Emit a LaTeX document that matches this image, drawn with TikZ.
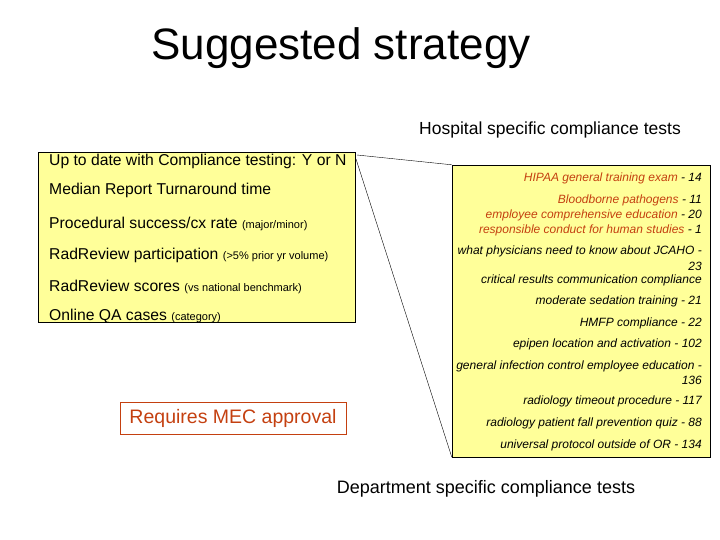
\documentclass[tikz,border=0pt]{standalone}
\usepackage{fontspec}
\setmainfont{Liberation Sans}
\usetikzlibrary{positioning}
\definecolor{memoyellow}{RGB}{255,255,153}
\definecolor{memorust}{RGB}{196,64,16}
\newcommand{\memonote}[1]{{\fontsize{11}{12}\selectfont #1}}
\begin{document}
\begin{tikzpicture}[x=1pt, y=-1pt,
      panel/.style={draw=black, fill=memoyellow, inner sep=0pt},
      item/.style={anchor=west, inner sep=0pt, font=\fontsize{15.7}{18}\selectfont},
      test/.style={anchor=east, inner sep=0pt, font=\fontsize{12}{14}\selectfont\itshape},
      link/.style={draw=black, thin}]
    \useasboundingbox (0,0) rectangle (720,540);
    \node[font=\fontsize{44}{50}\selectfont] (title) at (341,48) {Suggested strategy};
    % left panel
    \node[panel, minimum width=317pt, minimum height=170pt] (measures) at (196.5,237) {};
    \node[item] (ytd)   at (49,161) {Up to date with Compliance testing: Y or N};
    \node[item] (tat)   at (49,190) {Median Report Turnaround time};
    \node[item] (proc)  at (49,224) {Procedural success/cx rate \memonote{(major/minor)}};
    \node[item] (rrp)   at (49,255) {RadReview participation \memonote{(>5\% prior yr volume)}};
    \node[item] (rrs)   at (49,287) {RadReview scores \memonote{(vs national benchmark)}};
    \node[item] (qa)    at (49,316) {Online QA cases \memonote{(category)}};
    % right panel
    \node[font=\fontsize{17.5}{19}\selectfont] (hosp) at (550,130) {Hospital specific compliance tests};
    \node[panel, minimum width=258pt, minimum height=292pt] (tests) at (581,311) {};
    \node[test, text=memorust] (t1)  at (702,178) {HIPAA general training exam \textcolor{black}{- 14}};
    \node[test, text=memorust] (t2)  at (702,200) {Bloodborne pathogens \textcolor{black}{- 11}};
    \node[test, text=memorust] (t3)  at (702,215) {employee comprehensive education \textcolor{black}{- 20}};
    \node[test, text=memorust] (t4)  at (702,230) {responsible conduct for human studies \textcolor{black}{- 1}};
    \node[test] (t5)  at (702,251) {what physicians need to know about JCAHO -};
    \node[test] (t5b) at (702,266) {23};
    \node[test] (t6)  at (702,280) {critical results communication compliance};
    \node[test] (t7)  at (702,301) {moderate sedation training - 21};
    \node[test] (t8)  at (702,323) {HMFP compliance - 22};
    \node[test] (t9)  at (702,344) {epipen location and activation - 102};
    \node[test] (t10) at (702,366) {general infection control employee education -};
    \node[test] (t10b) at (702,380) {136};
    \node[test] (t11) at (702,401) {radiology timeout procedure - 117};
    \node[test] (t12) at (702,423) {radiology patient fall prevention quiz - 88};
    \node[test] (t13) at (702,445) {universal protocol outside of OR - 134};
    % bottom notes
    \node[draw=memorust, text=memorust, font=\fontsize{19.5}{21}\selectfont,
          minimum width=226pt, minimum height=32pt, inner sep=0pt] (mec) at (233,418) {Requires MEC approval};
    \node[font=\fontsize{18}{20}\selectfont] (dept) at (486,489) {Department specific compliance tests};
    % connectors
    \coordinate (ytdend) at (357,155);
    \coordinate (ytdfoot) at (356,159);
    \draw[link] (ytdend) -- (tests.north west);
    \draw[link] (ytdfoot) -- (tests.south west);
  \end{tikzpicture}
\end{document}
